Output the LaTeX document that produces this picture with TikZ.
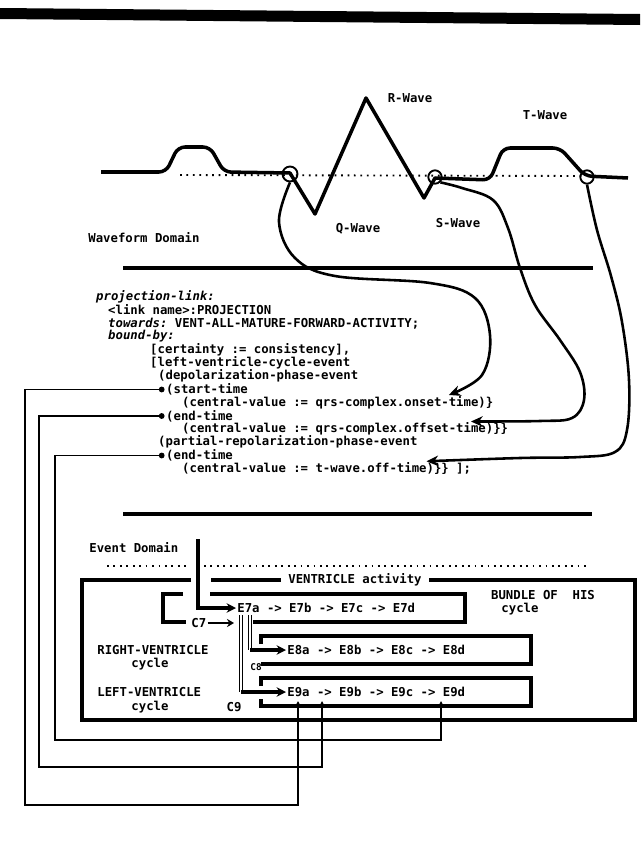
\documentclass[tikz,border=0pt]{standalone}
\usepackage{fontspec}
\setmonofont{DejaVu Sans Mono}
\usetikzlibrary{arrows.meta, positioning, calc}

\begin{document}
\begin{tikzpicture}[x=0.03cm, y=-0.03cm, >=Stealth,
  txt/.style={font=\fontsize{10.5}{12}\ttfamily\bfseries, inner sep=0pt, anchor=west},
  lbl/.style={font=\fontsize{10.5}{12}\ttfamily\bfseries, inner sep=1pt},
  wave/.style={line width=3pt, line join=round},
  ring/.style={circle, draw, line width=1.6pt, minimum size=0.45cm, inner sep=0pt},
  link/.style={line width=2.2pt, -{Stealth[length=10pt, width=9pt]}},
  sepline/.style={line width=3pt},
  dotline/.style={line width=1.6pt, dash pattern=on 1.5pt off 4pt},
  box/.style={line width=3pt},
  boxarr/.style={line width=3pt, -{Stealth[length=8pt, width=8pt]}},
  dbl/.style={double, line width=0.9pt, double distance=1.3pt},
  feed/.style={line width=1.3pt, -{Stealth[length=5pt, width=5pt]}},
  bulletpt/.style={circle, fill, inner sep=0pt, minimum size=5pt}]

  \useasboundingbox (0,0) rectangle (640,841);
  %% top bar
  \fill (0,8) -- (640,14) -- (640,25) -- (0,19) -- cycle;

  %% Waveform domain
  \draw[dotline] (180,175) -- (582,176);
  \draw[wave] (101,172) [rounded corners=6pt] -- (166,172) -- (178,147)
    -- (210,147) -- (224,172) [sharp corners] -- (290,173) -- (315,214)
    -- (366,98) -- (424,198) -- (435,178) [rounded corners=6pt] -- (490,180)
    -- (503,148) -- (560,148) -- (585,176) [sharp corners] -- (628,178);
  \node[ring] (c1) at (290,174) {};
  \node[ring, minimum size=0.4cm] (c2) at (435,177) {};
  \node[ring, minimum size=0.4cm] (c3) at (587,177) {};
  \node[lbl] (rw) at (410,98) {R-Wave};
  \node[lbl] (tw) at (545,115) {T-Wave};
  \node[lbl] (qw) at (358,229) {Q-Wave};
  \node[lbl] (sw) at (458,223) {S-Wave};
  \node[lbl, anchor=west] (wd) at (87,238) {Waveform Domain};
  \draw[sepline] (123,268) -- (593,268);

  %% projection link text
  \node[txt] (prj) at (96,297) {\itshape projection-link:};
  \node[txt] (lnk) at (108,310) {<link name>:PROJECTION};
  \node[txt] (tow) at (108,323.5) {{\itshape towards:} VENT-ALL-MATURE-FORWARD-ACTIVITY;};
  \node[txt] (bnd) at (108,336.5) {\itshape bound-by:};
  \node[txt] (cer) at (150,350) {[certainty := consistency],};
  \node[txt] (lvc) at (150,363) {[left-ventricle-cycle-event};
  \node[txt] (dep) at (158,376) {(depolarization-phase-event};
  \node[txt] (st) at (166,389.5) {(start-time};
  \node[txt] (cvon) at (182,402.5) {(central-value := qrs-complex.onset-time)\}};
  \node[txt] (et1) at (166,416) {(end-time};
  \node[txt] (cvoff) at (182,429) {(central-value := qrs-complex.offset-time)\}\}};
  \node[txt] (prp) at (158,442) {(partial-repolarization-phase-event};
  \node[txt] (et2) at (166,455.5) {(end-time};
  \node[txt] (cvt) at (182,468.5) {(central-value := t-wave.off-time)\}\} ];};
  \node[bulletpt, left=1pt of st] (b1) {};
  \node[bulletpt, left=1pt of et1] (b2) {};
  \node[bulletpt, left=1pt of et2] (b3) {};

  %% wave points to text
  \coordinate (onset) at ($(cvon.north west)+(36*7.41,-1)$);
  \coordinate (offset) at ($(cvoff.north west)+(39*7.41,-1)$);
  \coordinate (toff) at ($(cvt.north west)+(33*7.41,-1)$);
  \draw[link] plot[smooth, tension=0.6] coordinates {(c1.south) (279,222)
    (295,258) (335,276) (430,283) (475,298) (490,335) (482,375) (onset)};
  \draw[link] plot[smooth, tension=0.6] coordinates {(c2.south east) (462,188)
    (493,200) (508,228) (520,268) (535,305) (560,340) (580,372) (584,400)
    (572,418) (540,421) (offset)};
  \draw[link] plot[smooth, tension=0.6] coordinates {(c3.south) (597,230)
    (611,276) (622,322) (629,380) (627,430) (615,452) (580,457) (520,458) (toff)};

  %% Event domain
  \draw[sepline] (123,514) -- (592,514);
  \node[lbl, anchor=west] (evd) at (88,548) {Event Domain};
  \draw[dotline] (107,566) -- (190,566);
  \draw[dotline] (204,566) -- (590,566);
  \coordinate (evtop) at (198,539);

  \node[lbl, inner xsep=6pt] (va) at (355,580) {VENTRICLE activity};
  \draw[box] (191,580) -- (82,580) -- (82,720) -- (635,720) -- (635,580) -- (va.east);
  \draw[box] (211,580) -- (va.west);
  \node[lbl] (bh) at (543,595) {BUNDLE OF~ HIS};
  \node[lbl] (bhc) at (520,609) {cycle};
  \node[lbl, anchor=west] (rv) at (96,650) {RIGHT-VENTRICLE};
  \node[lbl] (rvc) at (150,664) {cycle};
  \node[lbl, anchor=west] (lv) at (96,692) {LEFT-VENTRICLE};
  \node[lbl] (lvc) at (150,707) {cycle};

  %% cycles
  \node[lbl, anchor=west] (e7) at (236,608) {E7a -> E7b -> E7c -> E7d};
  \node[lbl, anchor=west] (e8) at (286,650) {E8a -> E8b -> E8c -> E8d};
  \node[lbl, anchor=west] (e9) at (286,692) {E9a -> E9b -> E9c -> E9d};
  \draw[boxarr] (evtop) |- (e7.west);
  \draw[box] (210,594) -- (465,594) -- (465,622) -- (253,622);
  \draw[box] (183,594) -- (163,594) -- (163,622) -- (186,622);
  \node[lbl, anchor=west] (c7) at (190,623) {C7};
  \draw[line width=2pt, -{Stealth[length=6pt, width=7pt]}] (c7.east) -- (234,623);
  \draw[box] (261,644) -- (261,636) -- (531,636) -- (531,664) -- (261,664);
  \draw[box] (261,686) -- (261,678) -- (531,678) -- (531,706) -- (261,706) -- (261,699);
  \node[lbl, font=\fontsize{8}{9}\ttfamily\bfseries] (c8) at (256,667) {C8};
  \node[lbl] (c9) at (234,707) {C9};

  \coordinate (v9) at ($(e7.south west)+(5,1)$);
  \coordinate (v8) at ($(e7.south west)+(14,1)$);
  \draw[dbl] (v9) -- (v9 |- e9.west);
  \draw[boxarr] (v9 |- e9.west) -- (e9.west);
  \draw[dbl] (v8) -- (v8 |- e8.west);
  \draw[boxarr] (v8 |- e8.west) -- (e8.west);

  %% feedback from events to time slots
  \coordinate (a1) at (298,701);
  \coordinate (a2) at (322,701);
  \coordinate (a3) at (441,701);
  \draw[feed] (b1) -| (25,805) -| (a1);
  \draw[feed] (b2) -| (39,767) -| (a2);
  \draw[feed] (b3) -| (55,740) -| (a3);
\end{tikzpicture}
\end{document}
